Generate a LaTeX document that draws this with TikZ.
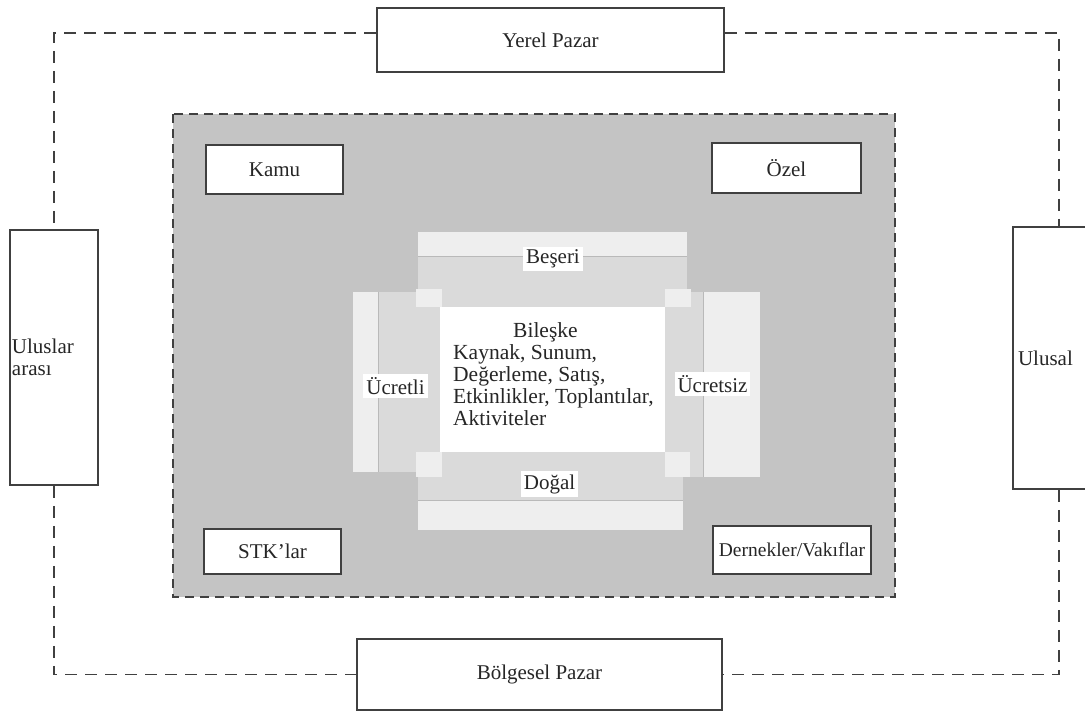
\documentclass[tikz,border=0pt]{standalone}
\usepackage{fontspec}
\setmainfont{Liberation Serif}
\usetikzlibrary{positioning}
\definecolor{ink}{HTML}{262626}
\definecolor{rim}{HTML}{404040}
\definecolor{panel}{HTML}{C4C4C4}
\definecolor{band}{HTML}{DADADA}
\definecolor{pale}{HTML}{EEEEEE}

\tikzset{
  pbox/.style={draw=rim, line width=1.6pt, fill=white, text=ink, inner sep=2pt},
  dline/.style={draw=rim, line width=1.6pt, dash pattern=on 12pt off 8pt},
  lbl/.style={fill=white, text=ink, inner sep=3pt},
}

\begin{document}
\begin{tikzpicture}[x=1pt,y=-1pt,font=\fontsize{21}{22}\selectfont]
  \useasboundingbox (0,0) rectangle (1085,714);
  \clip (0,0) rectangle (1085,714);
  % markets
  \node[pbox, minimum width=347, minimum height=64] (yerel) at (550.5,40) {Yerel Pazar};
  \node[pbox, minimum width=365, minimum height=71] (bolge) at (539.5,674.5) {Bölgesel Pazar};
  \node[pbox, minimum width=88, minimum height=255, text width=84, align=left] (intl) at (54,357.5) {Uluslar\\arası};
  \node[pbox, minimum width=92, minimum height=262, text width=82, align=left] (natl) at (1059,358) {Ulusal};
  \coordinate (tl) at (54,33);
  \coordinate (tr) at (1059,33);
  \coordinate (bl) at (54,674.5);
  \coordinate (br) at (1059,674.5);
  \draw[dline] (yerel.west |- tl) -- (tl) -- (intl.north);
  \draw[dline] (yerel.east |- tr) -- (tr) -- (natl.north);
  \draw[dline] (intl.south) -- (bl) -- (bolge.west);
  \draw[dline] (natl.south) -- (br) -- (bolge.east);
  % grey panel
  \filldraw[fill=panel, dline, line width=1.4pt, dash pattern=on 9pt off 6pt] (173,114) rectangle (895,597);
  \node[pbox, minimum width=137, minimum height=49] (kamu) at (274.5,169.5) {Kamu};
  \node[pbox, minimum width=149, minimum height=50] (ozel) at (786.5,168) {Özel};
  \node[pbox, minimum width=137, minimum height=45] (stk) at (272.5,551.5) {STK'lar};
  \node[pbox, minimum width=158, minimum height=48, font=\fontsize{19.5}{22}\selectfont] (vakif) at (792,550) {Dernekler/Vakıflar};
  % cross
  \fill[band] (418,256) rectangle (687,307);
  \fill[pale] (418,232) rectangle (687,256);
  \fill[band] (418,452) rectangle (683,500);
  \fill[pale] (418,500) rectangle (683,530);
  \fill[band] (378,292) rectangle (440,472);
  \fill[pale] (353,292) rectangle (378,472);
  \fill[band] (665,292) rectangle (703,477);
  \fill[pale] (703,292) rectangle (760,477);
  \draw[band!85!black, line width=0.8pt] (378,292) -- (378,472) (703,292) -- (703,477)
    (418,256) -- (687,256) (418,500) -- (683,500);
  \fill[pale] (416,289) rectangle (442,307);
  \fill[pale] (665,289) rectangle (691,307);
  \fill[pale] (416,452) rectangle (442,477);
  \fill[pale] (665,452) rectangle (690,477);
  \fill[white] (440,307) rectangle (665,452);
  \node[lbl] (beseri) at (553,259) {Beşeri};
  \node[lbl] (dogal) at (549.5,484) {Doğal};
  \node[lbl] (ucretli) at (395.5,386) {Ücretli};
  \node[lbl] (ucretsiz) at (712.5,384) {Ücretsiz};
  \node[text=ink, anchor=west, align=left, inner sep=3pt, font=\fontsize{21.5}{22}\selectfont] (bileske) at (450,374)
    {\hspace*{60pt}Bileşke\\Kaynak, Sunum,\\Değerleme, Satış,\\Etkinlikler, Toplantılar,\\Aktiviteler};
\end{tikzpicture}
\end{document}
